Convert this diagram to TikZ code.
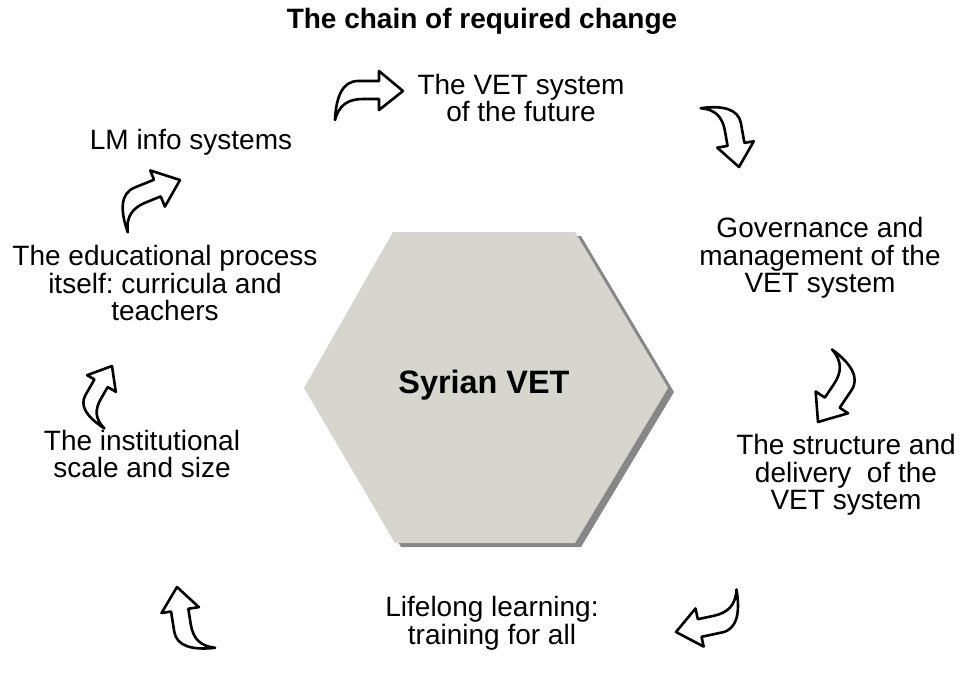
\documentclass[tikz,border=0pt]{standalone}
\usepackage{fontspec}
\setmainfont{Liberation Sans}
\usepackage{tikz}
\usetikzlibrary{arrows}
\definecolor{hexfill}{RGB}{214,214,206}
\definecolor{hexshade}{RGB}{135,135,135}
\newcommand{\turnarrow}[4]{%
  \draw[turnarrow, shift={(#1,#2)}, rotate=#3, scale=#4] (0,0) -- (-24,20) -- (-24,10) -- (-45,10)
    .. controls (-60,10) and (-67,-5) .. (-68,-29)
    .. controls (-64,-14) and (-55,-8) .. (-40,-8) -- (-24,-8) -- (-24,-19) -- cycle;}

\begin{document}
\frenchspacing
\begin{tikzpicture}[x=1pt, y=1pt, stagetext/.style={align=center, inner sep=0pt},
  turnarrow/.style={draw=black, fill=white, line width=2.6pt, line join=round}]
%
\fontsize{28}{27.5}\selectfont
\useasboundingbox (0,0) rectangle (960,-681);
%
\node (title) [stagetext, font=\bfseries] at (482,-21) {The chain of required change};
%
\fill[hexshade] (399,-236) -- (581,-236) -- (674,-392) -- (581,-547) -- (401,-547) -- (310,-392) -- cycle;
\fill[hexfill] (393,-232) -- (575,-232) -- (668,-388) -- (575,-543) -- (395,-543) -- (304,-388) -- cycle;
\node (hub) [stagetext, font=\fontsize{32.4}{36}\selectfont\bfseries] at (484,-385) {Syrian VET};
%
\node (T1) [stagetext] at (521,-98) {The VET system\\of the future};
\node (T2) [stagetext] at (820,-258) {Governance and\\management of the\\VET system};
\node (T3) [stagetext] at (846,-475) {The structure and\\delivery~~of the\\VET system};
\node (T4) [stagetext] at (492,-623) {Lifelong learning:\\training for all};
\node (T5) [stagetext] at (142,-454) {The institutional\\scale and size};
\node (T6) [stagetext] at (165,-283) {The educational process\\itself: curricula and\\teachers};
\node (T7) [stagetext] at (191,-142) {LM info systems};
%
\turnarrow{403}{-91}{0}{1}
\turnarrow{739}{-167}{-80}{0.95}
\turnarrow{818}{-422}{-124}{1}
\turnarrow{676}{-632}{-168}{1}
\turnarrow{177}{-587}{99}{0.97}
\turnarrow{112}{-366}{60}{0.85}
\turnarrow{180}{-180}{22}{1}
\end{tikzpicture}
\end{document}
